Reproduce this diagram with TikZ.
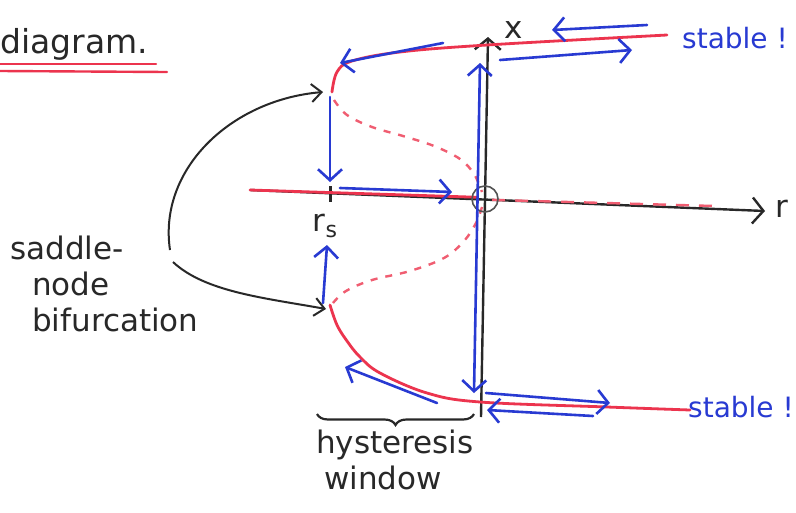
\documentclass[tikz,border=0pt]{standalone}
\usepackage{fontspec}
\setmainfont{DejaVu Sans}
\usetikzlibrary{arrows.meta,decorations.pathreplacing,calc}
\definecolor{hred}{RGB}{236,52,78}
\definecolor{hblue}{RGB}{40,58,210}
\definecolor{hblack}{RGB}{40,40,40}
\begin{document}
\begin{tikzpicture}[x=1pt,y=-1pt,
  redline/.style={draw=hred,line width=2.8pt,line cap=round},
  reddash/.style={draw=hred!80,line width=2.4pt,dash pattern=on 7pt off 8pt},
  bluearr/.style={draw=hblue,line width=2.6pt,line cap=round,-{Straight Barb[length=11pt,width=24pt,line width=2.6pt]}},
  bluedbl/.style={draw=hblue,line width=2.6pt,{Straight Barb[length=11pt,width=24pt,line width=2.6pt]}-{Straight Barb[length=11pt,width=24pt,line width=2.6pt]}},
  axisline/.style={draw=hblack,line width=2.4pt,-{Straight Barb[length=11pt,width=26pt,line width=2.4pt]}},
  blackarr/.style={draw=hblack,line width=2pt,-{Straight Barb[length=10pt,width=18pt,line width=2pt]}},
  hand/.style={text=hblack,font=\fontsize{31}{38}\selectfont,align=left,inner sep=0pt},
  bluetext/.style={text=hblue,font=\fontsize{28}{32}\selectfont,inner sep=0pt}
]
\useasboundingbox (0,0) rectangle (796,512);
\fill[white] (0,0) rectangle (796,512);

% coordinates
\coordinate (O) at (485,199);
\coordinate (rL) at (250,190);
\coordinate (rR) at (765,211);
\coordinate (xB) at (481,417);
\coordinate (xT) at (488,37);
\coordinate (SNu) at (332,92);
\coordinate (SNl) at (330,305);

% title
\node[hand,font=\fontsize{33}{38}\selectfont,anchor=west] (title) at (0,44) {diagram.};
\draw[redline,line width=2.4pt] (0,64) -- (156,64);
\draw[redline,line width=2.4pt] (0,71) -- (167,72);

% axes
\draw[axisline] (rL) -- (rR);
\draw[axisline] (xB) -- (xT);
\node[hand] (rlab) at (782,209) {r};
\node[hand] (xlab) at (514,30) {x};

% r_s tick
\draw[hblack,line width=3pt] (330,186) -- (330,202);
\node[hand] (rs) at (325,226) {r\raisebox{-6pt}{\fontsize{22}{24}\selectfont s}};

% red branches
\draw[redline] (rL) -- ($(rL)!0.44!(rR)+(0,-2)$);
\draw[reddash,dash pattern=on 13pt off 10pt] ($(rL)!0.47!(rR)+(0,0)$) -- ($(rL)!0.91!(rR)+(0,-3)$);
\draw[redline] plot[smooth,tension=0.6] coordinates {(SNu) (337,72) (352,61) (400,52) (487,45) (667,35)};
\draw[redline] plot[smooth,tension=0.6] coordinates {(SNl) (337,325) (347,341) (360,357) (380,373) (427,393) (480,402) (607,407) (690,410)};
\draw[reddash] plot[smooth,tension=0.6] coordinates {(334,100) (347,115) (372,127) (403,136) (434,146) (460,159) (474,174) (482,192)};
\draw[reddash] plot[smooth,tension=0.6] coordinates {(482,207) (476,223) (464,241) (444,258) (410,271) (372,280) (346,291) (333,303)};

% circle at origin
\draw[hblack!80,line width=1.6pt] (O) circle (13);

% blue arrows
\draw[bluearr] (647,25) -- (552,30);
\draw[bluearr] (500,60) -- (632,50);
\draw[bluearr] (443,43) -- (340,63);
\draw[bluearr] (330,97) -- (330,182);
\draw[bluearr] (340,188) -- (452,192);
\draw[bluedbl] (474,393) -- (480,63);
\draw[bluearr] (323,303) -- (327,245);
\draw[bluearr] (437,403) -- (345,367);
\draw[bluearr] (486,393) -- (610,403);
\draw[bluearr] (593,416) -- (487,410);

% stable labels
\node[bluetext,anchor=west] (st1) at (682,38) {stable !};
\node[bluetext,anchor=west] (st2) at (688,407) {stable !};

% saddle-node label and arrows
\node[hand,anchor=north west] (sn) at (10,236) {saddle-\\[-2pt]\hspace*{22pt}node\\[-2pt]\hspace*{22pt}bifurcation};
\draw[blackarr] (170,250) .. controls (158,170) and (230,100) .. (323,92);
\draw[blackarr] (173,262) .. controls (205,292) and (265,298) .. (326,309);

% hysteresis window
\draw[hblack,line width=2.2pt,decorate,decoration={brace,amplitude=11pt,mirror}] (317,414) -- (474,414);
\node[hand,anchor=north] (hw) at (395,430) {hysteresis\\[-2pt]\hspace*{8pt}window};
\end{tikzpicture}
\end{document}
